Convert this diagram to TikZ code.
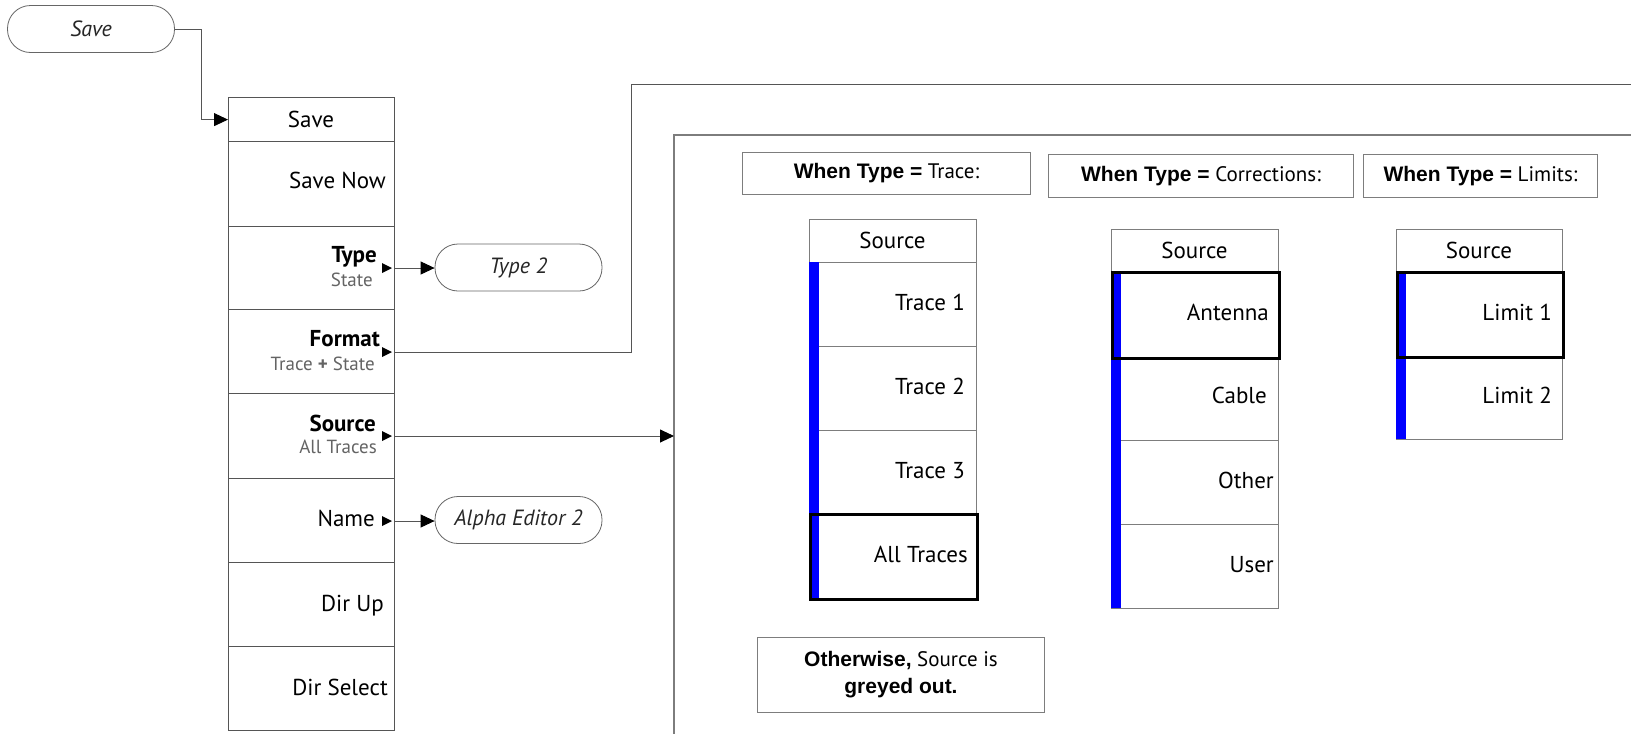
\documentclass[tikz,border=0pt]{standalone}
\usepackage{fontspec}
\setmainfont{PT Sans}
\newfontfamily\arialf{Liberation Sans}
\usetikzlibrary{arrows.meta}
\definecolor{mgray}{RGB}{85,85,85}
\definecolor{lgray}{RGB}{125,125,125}
\definecolor{subgray}{RGB}{100,100,100}
\definecolor{mblue}{RGB}{0,0,255}
\begin{document}
\begin{tikzpicture}[x=1pt,y=-1pt,
  row/.style={draw=mgray,line width=1.2pt,minimum width=166pt,inner sep=0pt,anchor=north west},
  srow/.style={draw=lgray,line width=1pt,minimum width=167pt,inner sep=0pt,anchor=north west},
  thick/.style={draw=black,line width=3pt,minimum width=167pt,inner sep=0pt,anchor=north west},
  lbl/.style={inner sep=0pt,font=\fontsize{23}{26}\selectfont},
  blbl/.style={inner sep=0pt,font=\bfseries\fontsize{23}{26}\selectfont},
  sub/.style={inner sep=0pt,font=\fontsize{19}{20}\selectfont,text=subgray},
  oval/.style={draw=gray!80!black,line width=0.8pt,rounded corners=23pt,minimum width=167pt,minimum height=47pt,inner sep=0pt,font=\itshape\fontsize{22}{24}\selectfont,text=gray!30!black},
  whenbox/.style={draw=lgray,line width=1pt,inner sep=0pt,anchor=north west,font=\fontsize{21}{24}\selectfont},
  conn/.style={draw=mgray,line width=0.9pt},
  arrowc/.style={conn,-{Triangle[length=14pt,width=13pt,color=black,fill=black]}}
]
\fill[white] (0,0) rectangle (1631,734);
\useasboundingbox (0,0) rectangle (1631,734);

% ---- main Save menu ----
\node[row,minimum height=44pt] (mh) at (228,97) {};
\node[row,minimum height=85pt] (m1) at (228,141) {};
\node[row,minimum height=83pt] (m2) at (228,226) {};
\node[row,minimum height=84pt] (m3) at (228,309) {};
\node[row,minimum height=85pt] (m4) at (228,393) {};
\node[row,minimum height=84pt] (m5) at (228,478) {};
\node[row,minimum height=84pt] (m6) at (228,562) {};
\node[row,minimum height=84pt] (m7) at (228,646) {};

\node[lbl,anchor=base] (lh) at (311,127) {Save};
\node[lbl,anchor=base east] (l1) at (386,188) {Save Now};
\node[blbl,anchor=base east] (l2a) at (377,262) {Type};
\node[sub,anchor=base east] (l2b) at (373,286) {State};
\node[blbl,anchor=base east] (l3a) at (380,346) {Format};
\node[sub,anchor=base east] (l3b) at (375,370) {Trace \textbf{+} State};
\node[blbl,anchor=base east] (l4a) at (376,431) {Source};
\node[sub,anchor=base east] (l4b) at (377,453) {All Traces};
\node[lbl,anchor=base east] (l5) at (375,526) {Name};
\node[lbl,anchor=base east] (l6) at (384,611) {Dir Up};
\node[lbl,anchor=base east] (l7) at (388,695) {Dir Select};

% small submenu triangles
\fill (382,263) -- (392,268) -- (382,273) -- cycle;
\fill (382,347) -- (392,352) -- (382,357) -- cycle;
\fill (382,431) -- (392,436) -- (382,441) -- cycle;
\fill (382,516) -- (392,521) -- (382,526) -- cycle;

% ---- ovals ----
\node[oval] (sv) at (91,29) {Save};
\node[oval] (t2) at (518.5,267.5) {Type 2};
\node[oval] (ae) at (518.5,520) {Alpha Editor 2};

% ---- connectors ----
\coordinate (tT) at (394,268);
\coordinate (fS) at (394,352);
\coordinate (fK) at (631,84);
\coordinate (fE) at (1631,84);
\coordinate (sS) at (394,436);
\coordinate (nS) at (394,521);
\coordinate (bTL) at (674,135);
\coordinate (bTR) at (1631,135);
\coordinate (bBL) at (674,734);

\draw[arrowc] (sv.east) -- ++(27,0) |- (mh.west);
\draw[arrowc] (tT) -- (tT -| t2.west);
\draw[arrowc] (nS) -- (nS -| ae.west);
\draw[conn] (fS) -| (fK) -- (fE);
\draw[draw=lgray,line width=1.2pt] (bTR) -- (bTL) -- (bBL);
\draw[arrowc] (sS) -- (sS -| bTL);

% ---- When boxes ----
\node[whenbox,minimum width=288pt,minimum height=42pt] (w1) at (742,152) {{\arialf\bfseries When Type =} Trace:};
\node[whenbox,minimum width=305pt,minimum height=43pt] (w2) at (1048,154) {{\arialf\bfseries When Type =} Corrections:};
\node[whenbox,minimum width=234pt,minimum height=43pt] (w3) at (1363,154) {{\arialf\bfseries When Type =} Limits:};

% ---- Trace source menu ----
\node[srow,minimum height=43pt] (th) at (809,219) {};
\node[srow,minimum height=84pt] (t1) at (809,262) {};
\node[srow,minimum height=84pt] (tr2) at (809,346) {};
\node[srow,minimum height=83pt] (tr3) at (809,430) {};
\fill[mblue] (809,262) rectangle (819,598);
\node[thick,minimum height=85pt] (tr4) at (809,513) {};
\node[lbl,anchor=base] (thl) at (892.5,248) {Source};
\node[lbl,anchor=base east] (t1l) at (965,310) {Trace 1};
\node[lbl,anchor=base east] (t2l) at (965,394) {Trace 2};
\node[lbl,anchor=base east] (t3l) at (965,478) {Trace 3};
\node[lbl,anchor=base east] (t4l) at (968,562) {All Traces};

% ---- Corrections source menu ----
\node[srow,minimum height=42pt] (ch) at (1111,229) {};
\node[srow,minimum height=83pt] (c2) at (1111,357) {};
\node[srow,minimum height=84pt] (c3) at (1111,440) {};
\node[srow,minimum height=84pt] (c4) at (1111,524) {};
\fill[mblue] (1111,271) rectangle (1121,608);
\node[thick,minimum height=86pt] (c1) at (1111,271) {};
\node[lbl,anchor=base] (chl) at (1194.5,258) {Source};
\node[lbl,anchor=base east] (c1l) at (1269,320) {Antenna};
\node[lbl,anchor=base east] (c2l) at (1267,403) {Cable};
\node[lbl,anchor=base east] (c3l) at (1274,488) {Other};
\node[lbl,anchor=base east] (c4l) at (1274,572) {User};

% ---- Limits source menu ----
\node[srow,minimum width=166pt,minimum height=42pt] (lh2) at (1396,229) {};
\node[srow,minimum width=166pt,minimum height=83pt] (li2) at (1396,356) {};
\fill[mblue] (1396,271) rectangle (1406,439);
\node[thick,minimum width=166pt,minimum height=85pt] (li1) at (1396,271) {};
\node[lbl,anchor=base] (lhl) at (1479,258) {Source};
\node[lbl,anchor=base east] (li1l) at (1552,320) {Limit 1};
\node[lbl,anchor=base east] (li2l) at (1552,403) {Limit 2};

% ---- Otherwise box ----
\node[whenbox,minimum width=287pt,minimum height=75pt,align=center,font=\fontsize{21}{27}\selectfont] (ow) at (757,637)
  {{\arialf\bfseries Otherwise,} Source is\\{\arialf\bfseries greyed out.}};
\end{tikzpicture}
\end{document}
